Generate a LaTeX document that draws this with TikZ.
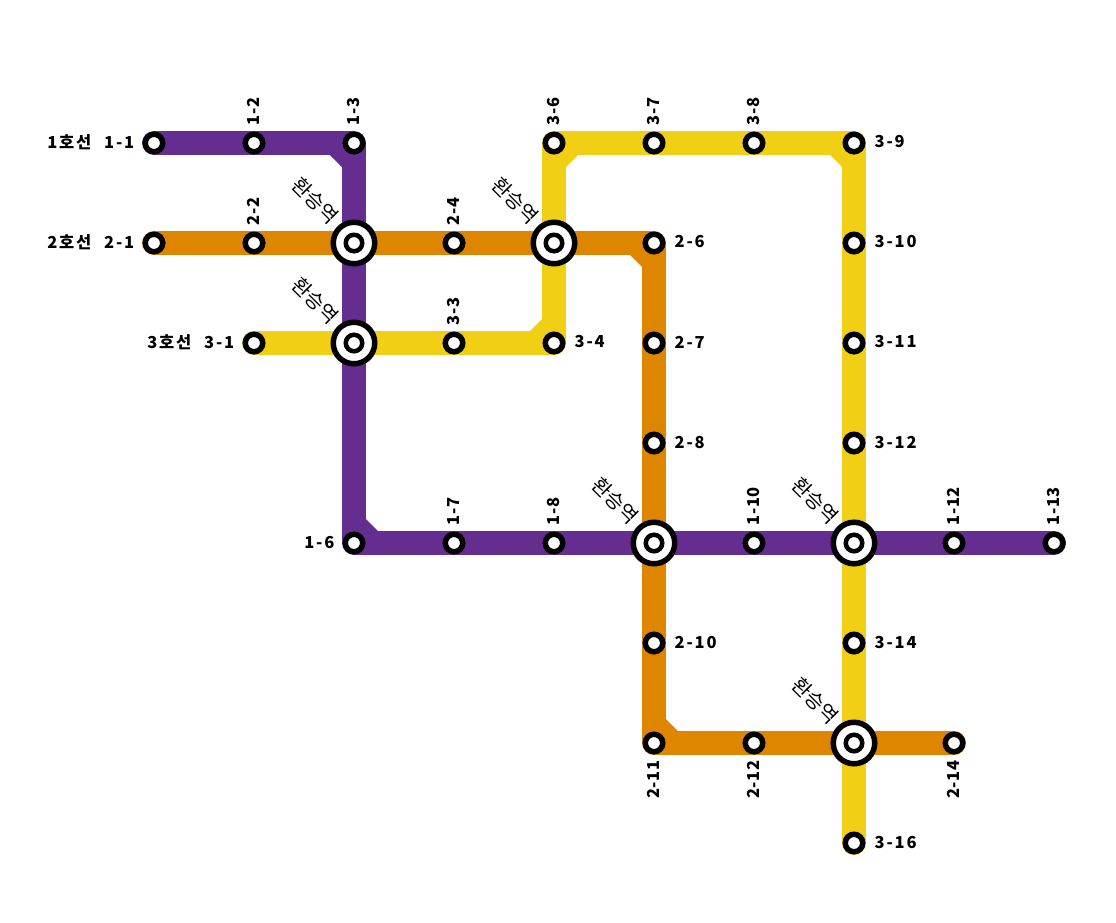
\documentclass[tikz,border=0pt]{standalone}
\usepackage{fontspec}
\setmainfont{Noto Sans CJK KR}
\newfontfamily\lblfont[LetterSpace=11,WordSpace=2.3]{Noto Sans CJK KR}
\newfontfamily\vlblfont[LetterSpace=3]{Noto Sans CJK KR}
\usetikzlibrary{positioning,backgrounds}
\definecolor{lineone}{HTML}{662D91}
\definecolor{linetwo}{HTML}{DF8600}
\definecolor{linethree}{HTML}{F0CF14}
\begin{document}
\begin{tikzpicture}[on grid, node distance=100pt, every node/.style={font=\fontsize{16.5pt}{18pt}\lblfont\bfseries}]
\tikzstyle{stn}=[circle, draw=black, fill=white, line width=5.5pt, minimum size=17.5pt, inner sep=0pt]
\tikzstyle{xfer}=[circle, draw=black, fill=white, line width=5.5pt, minimum size=41.5pt, inner sep=0pt]
\tikzstyle{core}=[stn, line width=4.5pt, minimum size=16.5pt]
\tikzstyle{lblright}=[xshift=9pt, yshift=1pt, anchor=west, inner sep=0pt]
\tikzstyle{lblleft}=[xshift=-8pt, yshift=1pt, anchor=east, inner sep=0pt]
\tikzstyle{lblup}=[yshift=6pt, xshift=-0.5pt, rotate=90, anchor=west, inner sep=0pt, font=\fontsize{16.5pt}{18pt}\vlblfont\bfseries]
\tikzstyle{lbldown}=[yshift=-6pt, xshift=-0.5pt, rotate=90, anchor=east, inner sep=0pt, font=\fontsize{16.5pt}{18pt}\vlblfont\bfseries]
\tikzstyle{track}=[line width=24pt, line join=round, line cap=round]
\tikzstyle{xferlbl}=[rotate=-45, anchor=east, inner sep=0pt, font=\fontsize{20pt}{22pt}\selectfont\normalfont]
\useasboundingbox (0,0) rectangle (1116pt,-922pt);
% line 1 stops
\node[stn, label={[lblleft]left:1호선 1-1}] (s11) at (154pt,-143pt) {};
\node[stn, right=of s11, label={[lblup]above:1-2}] (s12) {};
\node[stn, right=of s12, label={[lblup]above:1-3}] (s13) {};
\node[xfer, below=of s13] (x1) {};
\node[xfer, below=of x1] (x2) {};
\node[stn, below=200pt of x2, label={[lblleft]left:1-6}] (s16) {};
\node[stn, right=of s16, label={[lblup]above:1-7}] (s17) {};
\node[stn, right=of s17, label={[lblup]above:1-8}] (s18) {};
\node[xfer, right=of s18] (x3) {};
\node[stn, right=of x3, label={[lblup]above:1-10}] (s110) {};
\node[xfer, right=of s110] (x4) {};
\node[stn, right=of x4, label={[lblup]above:1-12}] (s112) {};
\node[stn, right=of s112, label={[lblup]above:1-13}] (s113) {};
% line 2 stops
\node[stn, below=of s11, label={[lblleft]left:2호선 2-1}] (s21) {};
\node[stn, right=of s21, label={[lblup]above:2-2}] (s22) {};
\node[stn, right=of x1, label={[lblup]above:2-4}] (s24) {};
\node[xfer, right=of s24] (x5) {};
\node[stn, right=of x5, label={[lblright]right:2-6}] (s26) {};
\node[stn, below=of s26, label={[lblright]right:2-7}] (s27) {};
\node[stn, below=of s27, label={[lblright]right:2-8}] (s28) {};
\node[stn, below=of x3, label={[lblright]right:2-10}] (s210) {};
\node[stn, below=of s210, label={[lbldown]below:2-11}] (s211) {};
\node[stn, right=of s211, label={[lbldown]below:2-12}] (s212) {};
\node[xfer, right=of s212] (x6) {};
\node[stn, right=of x6, label={[lbldown]below:2-14}] (s214) {};
% line 3 stops
\node[stn, left=of x2, label={[lblleft]left:3호선 3-1}] (s31) {};
\node[stn, right=of x2, label={[lblup]above:3-3}] (s33) {};
\node[stn, right=of s33, label={[lblright]right:3-4}] (s34) {};
\node[stn, above=of x5, label={[lblup]above:3-6}] (s36) {};
\node[stn, right=of s36, label={[lblup]above:3-7}] (s37) {};
\node[stn, right=of s37, label={[lblup]above:3-8}] (s38) {};
\node[stn, right=of s38, label={[lblright]right:3-9}] (s39) {};
\node[stn, below=of s39, label={[lblright]right:3-10}] (s310) {};
\node[stn, below=of s310, label={[lblright]right:3-11}] (s311) {};
\node[stn, below=of s311, label={[lblright]right:3-12}] (s312) {};
\node[stn, below=of x4, label={[lblright]right:3-14}] (s314) {};
\node[stn, below=of x6, label={[lblright]right:3-16}] (s316) {};
% transfer stops
\foreach \x in {x1,x2,x3,x4,x5,x6} {
  \node[core] (c\x) at (\x) {};
  \node[xferlbl] (t\x) at ([shift={(-19pt,23pt)}]\x) {환승역};
}
% tracks
\begin{scope}[on background layer]
\draw[track, linethree] (s31.center)--(s34.center)--(s36.center)--(s39.center)--(s316.center);
\draw[track, linetwo] (s21.center)--(s26.center)--(s211.center)--(s214.center);
\draw[track, lineone] (s11.center)--(s13.center)--(s16.center)--(s113.center);
\fill[lineone] ([shift={(-24pt,-12pt)}]s13.center)--([shift={(-12pt,-12pt)}]s13.center)--([shift={(-12pt,-24pt)}]s13.center)--cycle;
\fill[lineone] ([shift={(12pt,12pt)}]s16.center)--([shift={(24pt,12pt)}]s16.center)--([shift={(12pt,24pt)}]s16.center)--cycle;
\fill[linetwo] ([shift={(-24pt,-12pt)}]s26.center)--([shift={(-12pt,-12pt)}]s26.center)--([shift={(-12pt,-24pt)}]s26.center)--cycle;
\fill[linetwo] ([shift={(12pt,12pt)}]s211.center)--([shift={(24pt,12pt)}]s211.center)--([shift={(12pt,24pt)}]s211.center)--cycle;
\fill[linethree] ([shift={(12pt,-12pt)}]s36.center)--([shift={(24pt,-12pt)}]s36.center)--([shift={(12pt,-24pt)}]s36.center)--cycle;
\fill[linethree] ([shift={(-24pt,-12pt)}]s39.center)--([shift={(-12pt,-12pt)}]s39.center)--([shift={(-12pt,-24pt)}]s39.center)--cycle;
\fill[linethree] ([shift={(-24pt,12pt)}]s34.center)--([shift={(-12pt,12pt)}]s34.center)--([shift={(-12pt,24pt)}]s34.center)--cycle;
\end{scope}
\end{tikzpicture}
\end{document}
